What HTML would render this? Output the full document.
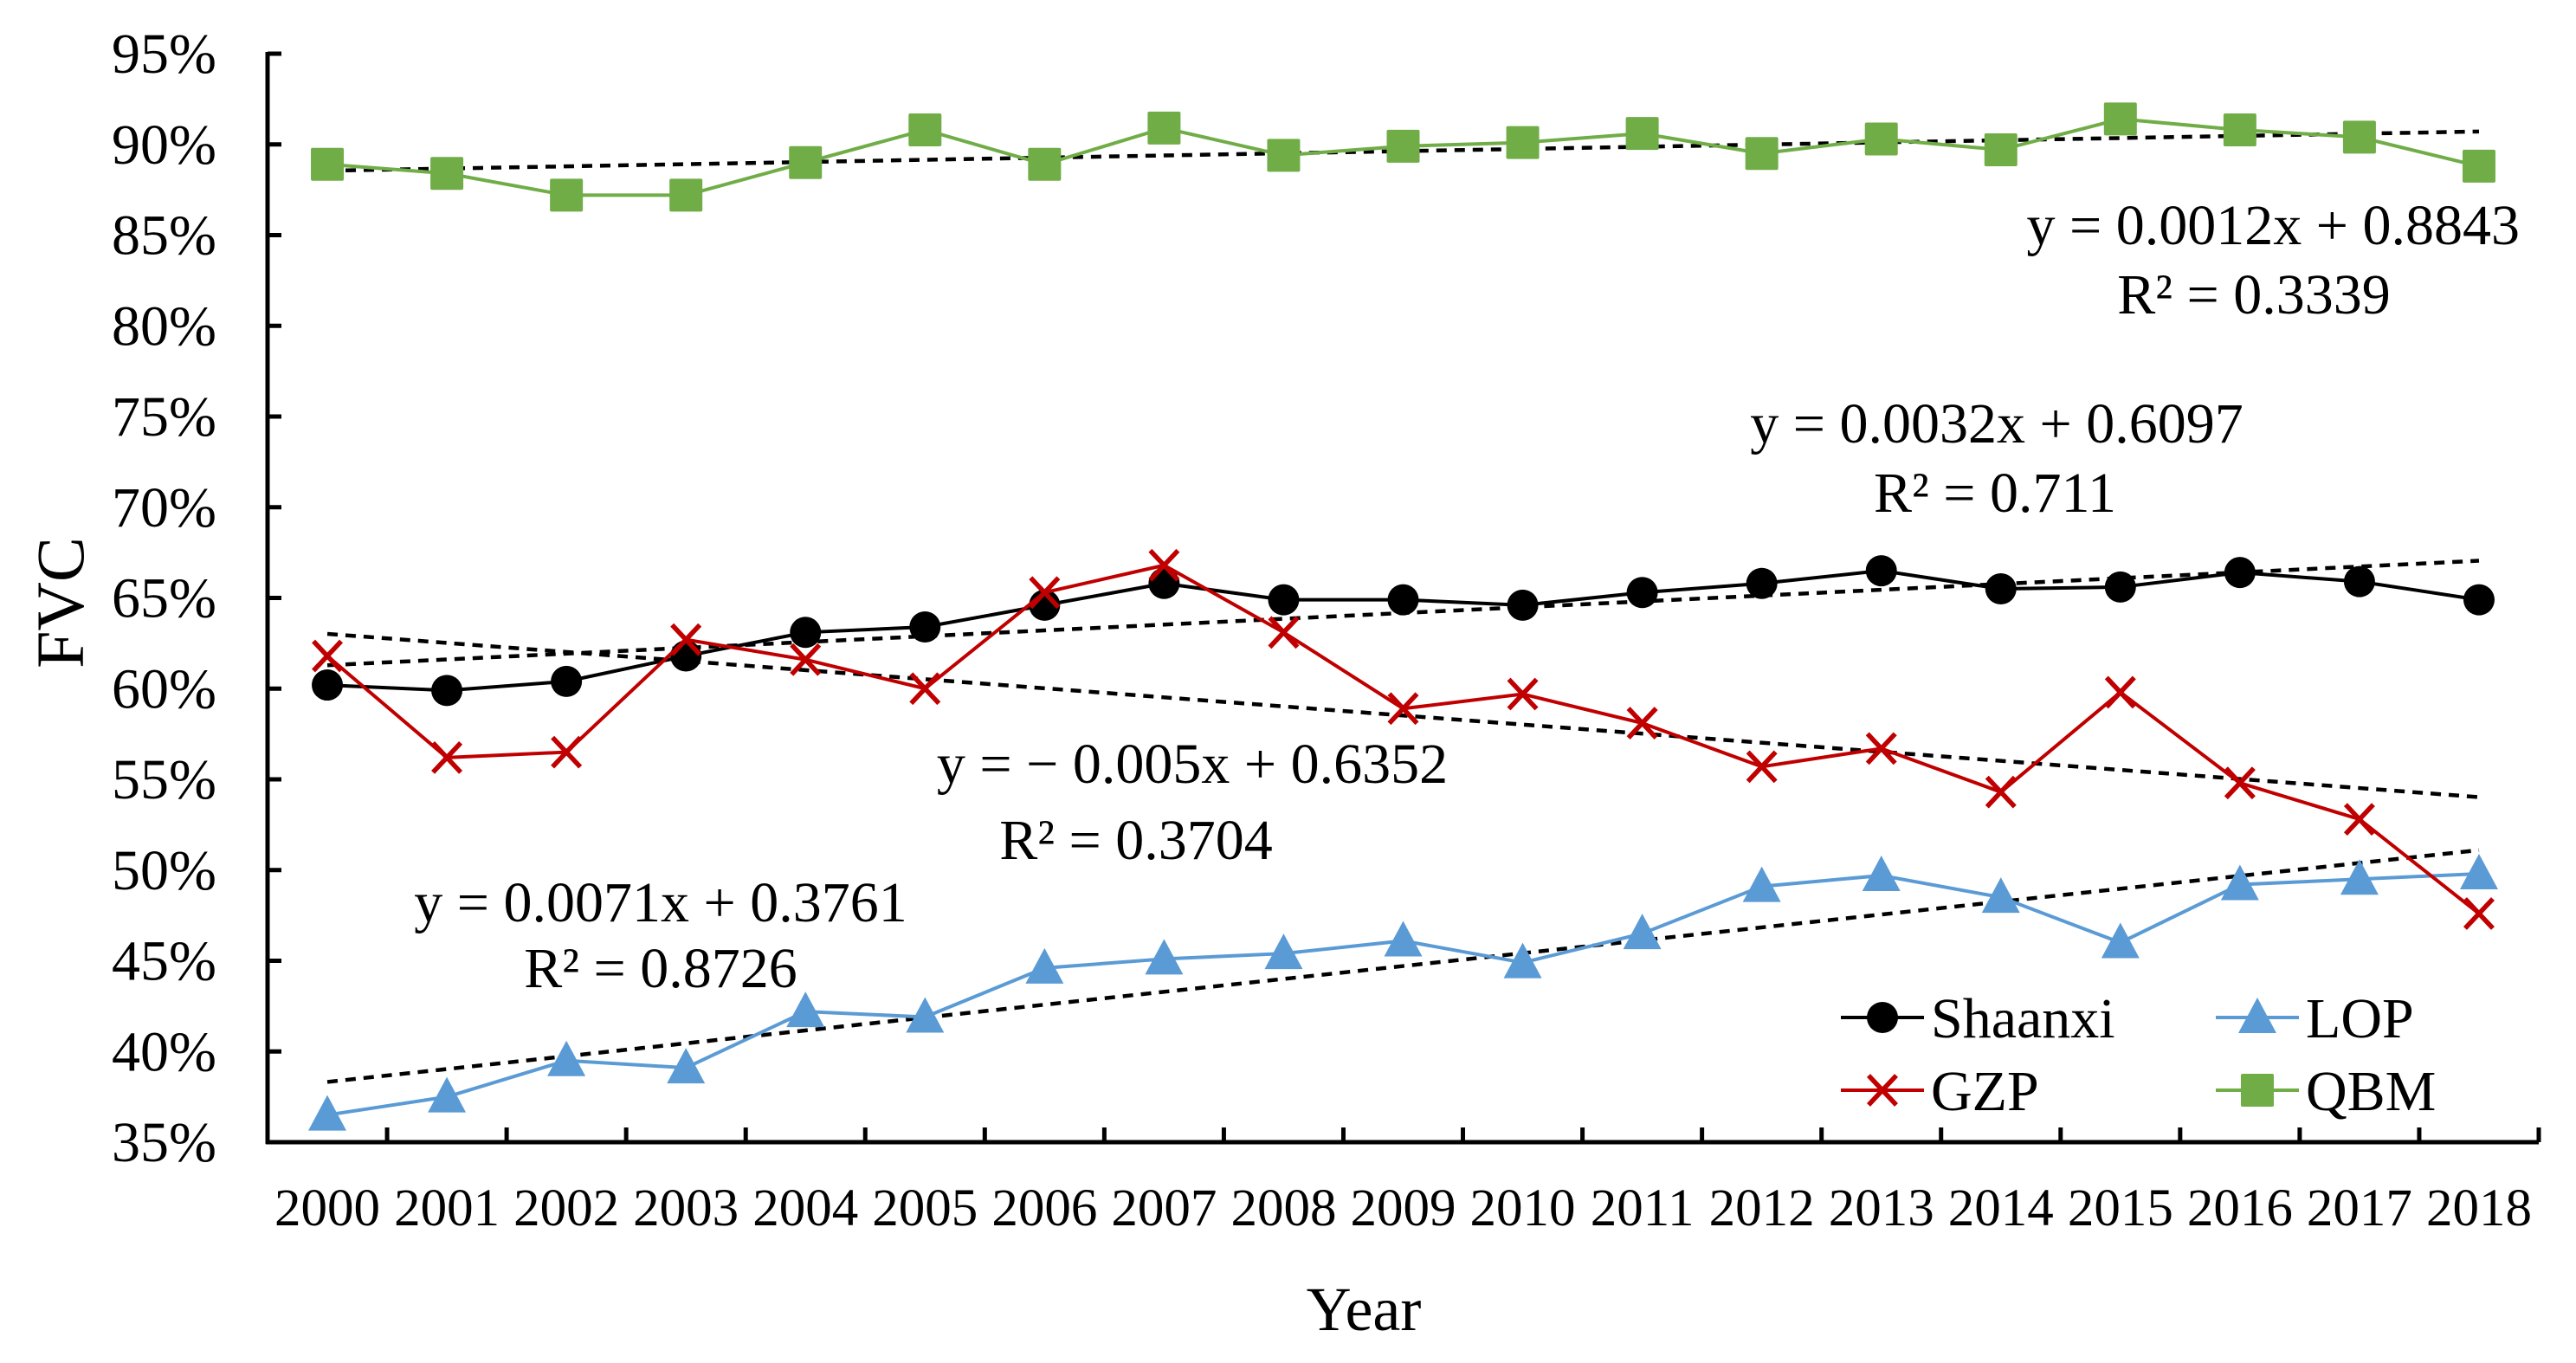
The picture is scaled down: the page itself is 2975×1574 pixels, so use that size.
<!DOCTYPE html>
<html><head><meta charset="utf-8"><style>
html,body{margin:0;padding:0;background:#fff;}
svg{display:block;font-family:"Liberation Serif","Times New Roman",serif;}
</style></head><body>
<svg id="chart" width="2975" height="1574" viewBox="0 0 2975 1574" xmlns="http://www.w3.org/2000/svg">
<rect width="2975" height="1574" fill="#fff"/>
<g id="grid"></g><g id="trends"></g><g id="series"></g><g id="labels"></g>
<text x="0" y="0" font-size="78" text-anchor="middle" transform="translate(96,696) rotate(-90)">FVC</text>
<text x="1575" y="1536" font-size="72" text-anchor="middle">Year</text>
<text x="2910" y="282" font-size="66" text-anchor="end">y = 0.0012x  + 0.8843</text>
<text x="2603" y="362" font-size="66" text-anchor="middle">R² = 0.3339</text>
<text x="2306" y="511" font-size="66" text-anchor="middle">y = 0.0032x  + 0.6097</text>
<text x="2304" y="591" font-size="66" text-anchor="middle">R² = 0.711</text>
<text x="1377" y="904" font-size="66" text-anchor="middle">y = − 0.005x + 0.6352</text>
<text x="1312" y="992" font-size="66" text-anchor="middle">R² = 0.3704</text>
<text x="763" y="1064" font-size="66" text-anchor="middle">y = 0.0071x  + 0.3761</text>
<text x="763" y="1140" font-size="66" text-anchor="middle">R² = 0.8726</text>
<g id="legend"></g>
</svg>
<script>
const years = ["2000","2001","2002","2003","2004","2005","2006","2007","2008","2009","2010","2011","2012","2013","2014","2015","2016","2017","2018"];
const yTicks = [35,40,45,50,55,60,65,70,75,80,85,90,95];
const shaanxi = [60.2,59.9,60.4,61.8,63.1,63.4,64.6,65.8,64.9,64.9,64.6,65.3,65.8,66.5,65.5,65.6,66.4,65.9,64.9];
const gzp = [61.8,56.2,56.5,62.7,61.6,60.0,65.3,66.8,63.1,58.9,59.7,58.1,55.7,56.7,54.3,59.8,54.8,52.8,47.6];
const lop = [36.5,37.5,39.5,39.1,42.2,41.9,44.6,45.1,45.4,46.1,44.9,46.5,49.1,49.7,48.5,46.0,49.2,49.5,49.8];
const qbm = [88.9,88.4,87.2,87.2,89.0,90.8,88.9,90.9,89.4,89.9,90.1,90.6,89.5,90.3,89.7,91.4,90.8,90.4,88.8];
const trendSlopes = {shaanxi:0.0032, gzp:-0.005, lop:0.0071, qbm:0.0012};
const trendIntercepts = {shaanxi:0.6097, gzp:0.6352, lop:0.3761, qbm:0.8843};

const NS="http://www.w3.org/2000/svg";
const X0=309, X1=2932, Y0=1319, Y1=62, YMIN=35, YMAX=95;
const band=(X1-X0)/years.length;
function xs(i){return X0+band*(i+0.5);}
function ys(v){return Y0-(v-YMIN)/(YMAX-YMIN)*(Y0-Y1);}
function mk(tag,attrs,parent){const e=document.createElementNS(NS,tag);for(const k in attrs)e.setAttribute(k,attrs[k]);parent.appendChild(e);return e;}
const grid=document.getElementById('grid'),labels=document.getElementById('labels');
let a=mk('line',{x1:X0,y1:Y1-2,x2:X0,y2:Y0+2,stroke:'#000','stroke-width':5},grid);


a=mk('line',{x1:X0-2,y1:Y0,x2:X1,y2:Y0,stroke:'#000','stroke-width':5},grid);


yTicks.forEach(v=>{
  const y=ys(v);
  const t=mk('line',{x1:X0,y1:y,x2:X0+16,y2:y,stroke:'#000','stroke-width':5},grid);
  
  
  const l=mk('text',{x:250,y:y+22,'font-size':66,'text-anchor':'end'},labels);l.textContent=v+'%';
  
  
});
for(let i=0;i<=years.length;i++){
  const x=X0+band*i;
  const t=mk('line',{x1:x,y1:Y0,x2:x,y2:Y0-17,stroke:'#000','stroke-width':5},grid);
  
  
}
years.forEach((yr,i)=>{
  const l=mk('text',{x:xs(i),y:1415,'font-size':61,'text-anchor':'middle'},labels);l.textContent=yr;
  
  
});
const trends=document.getElementById('trends');
Object.keys(trendSlopes).forEach(k=>{
  const v1=(trendSlopes[k]*1+trendIntercepts[k])*100, v2=(trendSlopes[k]*years.length+trendIntercepts[k])*100;
  const t=mk('line',{x1:xs(0),y1:ys(v1),x2:xs(years.length-1),y2:ys(v2),stroke:'#000','stroke-width':4.5,'stroke-dasharray':'12 9'},trends);
  
  
});
function marker(type,x,y,color,parent){
  if(type==='circle') return mk('circle',{cx:x,cy:y,r:18,fill:color},parent);
  if(type==='square') return mk('rect',{x:x-19,y:y-19,width:38,height:38,fill:color,rx:2},parent);
  if(type==='triangle') return mk('polygon',{points:`${x},${y-23} ${x+22},${y+18} ${x-22},${y+18}`,fill:color},parent);
  const g=mk('g',{},parent);
  mk('line',{x1:x-16,y1:y-17,x2:x+16,y2:y+17,stroke:color,'stroke-width':5.5},g);
  mk('line',{x1:x+16,y1:y-17,x2:x-16,y2:y+17,stroke:color,'stroke-width':5.5},g);
  return g;
}
const seriesDefs=[
  {name:'qbm',data:qbm,color:'#70ad47',type:'square'},
  {name:'lop',data:lop,color:'#5b9bd5',type:'triangle'},
  {name:'shaanxi',data:shaanxi,color:'#000000',type:'circle'},
  {name:'gzp',data:gzp,color:'#c00000',type:'x'}
];
const sg=document.getElementById('series');
seriesDefs.forEach(s=>{
  const g=mk('g',{},sg);
  
  
  const pts=s.data.map((v,i)=>xs(i)+','+ys(v)).join(' ');
  mk('polyline',{points:pts,fill:'none',stroke:s.color,'stroke-width':4},g);
  s.data.forEach((v,i)=>{
    const m=marker(s.type,xs(i),ys(v),s.color,g);
    
    
  });
});
const lg=document.getElementById('legend');
const legendItems=[
  {label:'Shaanxi',color:'#000000',type:'circle',x:2126,y:1175},
  {label:'LOP',color:'#5b9bd5',type:'triangle',x:2559,y:1175},
  {label:'GZP',color:'#c00000',type:'x',x:2126,y:1259},
  {label:'QBM',color:'#70ad47',type:'square',x:2559,y:1259}
];
legendItems.forEach(it=>{
  const g=mk('g',{},lg);
  
  
  mk('line',{x1:it.x,y1:it.y,x2:it.x+96,y2:it.y,stroke:it.color,'stroke-width':4},g);
  marker(it.type,it.x+48,it.y,it.color,g);
  const t=mk('text',{x:it.x+104,y:it.y+23,'font-size':66},g);t.textContent=it.label;
});
</script>
</body></html>
